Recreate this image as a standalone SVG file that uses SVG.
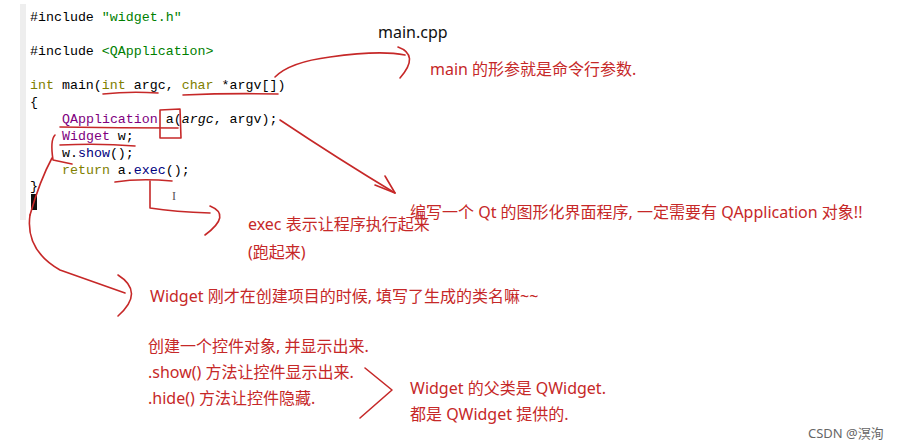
<svg xmlns="http://www.w3.org/2000/svg" width="908" height="446" viewBox="0 0 908 446">
<style>
.c{font-family:"Liberation Mono",monospace;font-size:13.3px;fill:#000080}
.k{fill:#808000}.p{fill:#800080}.g{fill:#008000}.b{fill:#000}
.r{font-family:"Noto Sans","Noto Sans CJK SC",sans-serif;font-size:16px;fill:#c62828}
.s{fill:none;stroke:#c62828;stroke-width:1.6;stroke-linecap:round;stroke-linejoin:round}
</style>
<rect width="908" height="446" fill="#fff"/>
<rect x="20" y="4" width="6" height="216" fill="#eee"/>
<g id="code">
<text class="c" x="30" y="21"><tspan class="b">#include</tspan> <tspan class="g">"widget.h"</tspan></text>
<text class="c" x="30" y="55"><tspan class="b">#include</tspan> <tspan class="g">&lt;QApplication&gt;</tspan></text>
<text class="c" x="30" y="89"><tspan class="k">int</tspan><tspan class="b"> main(</tspan><tspan class="k">int</tspan><tspan class="b"> argc, </tspan><tspan class="k">char</tspan><tspan class="b"> *argv[])</tspan></text>
<text class="c b" x="30" y="106">{</text>
<text class="c" x="62" y="123"><tspan class="p">QApplication</tspan><tspan class="b"> a(</tspan><tspan class="b" font-style="italic">argc</tspan><tspan class="b">, argv);</tspan></text>
<text class="c" x="62" y="140"><tspan class="p">Widget</tspan><tspan class="b"> w;</tspan></text>
<text class="c" x="62" y="157"><tspan class="b">w.</tspan>show<tspan class="b">();</tspan></text>
<text class="c" x="62" y="174"><tspan class="k">return</tspan><tspan class="b"> a.</tspan>exec<tspan class="b">();</tspan></text>
<text class="c b" x="30" y="190">}</text>
<rect x="31" y="194" width="6" height="16" fill="#111"/>
<text x="172" y="200" font-family="Liberation Serif,serif" font-size="12" fill="#555">I</text>
</g>
<g id="connectors">
<path class="s" d="M103 94 Q130 91 158 93"/>
<path class="s" d="M183 95 Q230 93 278 94"/>
<path class="s" d="M275 77 Q290 62 330 57 Q380 50 405 55"/>
<path class="s" d="M398 47 Q420 55 400 78"/>
<path class="s" d="M60 127 Q120 128 178 128"/>
<path class="s" d="M160 110 L180 109 L181 138 L160 138 Z"/>
<path class="s" d="M60 145 Q100 143 135 146"/>
<path class="s" d="M55 135 Q50 140 53 160 L72 164"/>
<path class="s" d="M52 158 Q40 180 30 215"/>
<path class="s" d="M30 215 Q25 250 60 270 L125 293"/>
<path class="s" d="M118 275 Q145 292 118 316"/>
<path class="s" d="M115 182 Q140 178 172 181"/>
<path class="s" d="M150 181 L150 208 Q175 212 210 213"/>
<path class="s" d="M210 206 Q232 215 205 235"/>
<path class="s" d="M280 120 Q340 160 395 193"/>
<path class="s" d="M375 185 L395 193 L385 176"/>
<path class="s" d="M365 368 L392 390 L360 418"/>
</g>
<g id="labels">
<text x="378" y="38" font-family="Noto Sans,sans-serif" font-size="16" fill="#111">main.cpp</text>
<text class="r" x="430" y="75">main 的形参就是命令行参数.</text>
<text class="r" x="410" y="218">编写一个 Qt 的图形化界面程序, 一定需要有 QApplication 对象!!</text>
<text class="r" x="248" y="230">exec 表示让程序执行起来</text>
<text class="r" x="248" y="258">(跑起来)</text>
<text class="r" x="150" y="302">Widget 刚才在创建项目的时候, 填写了生成的类名嘛~~</text>
<text class="r" x="148" y="352">创建一个控件对象, 并显示出来.</text>
<text class="r" x="148" y="378">.show() 方法让控件显示出来.</text>
<text class="r" x="148" y="404">.hide() 方法让控件隐藏.</text>
<text class="r" x="410" y="394">Widget 的父类是 QWidget.</text>
<text class="r" x="410" y="420">都是 QWidget 提供的.</text>
<text x="808" y="438" font-family="Noto Sans,Noto Sans CJK SC,sans-serif" font-size="13" fill="#666">CSDN @溟洵</text>
</g>
</svg>
